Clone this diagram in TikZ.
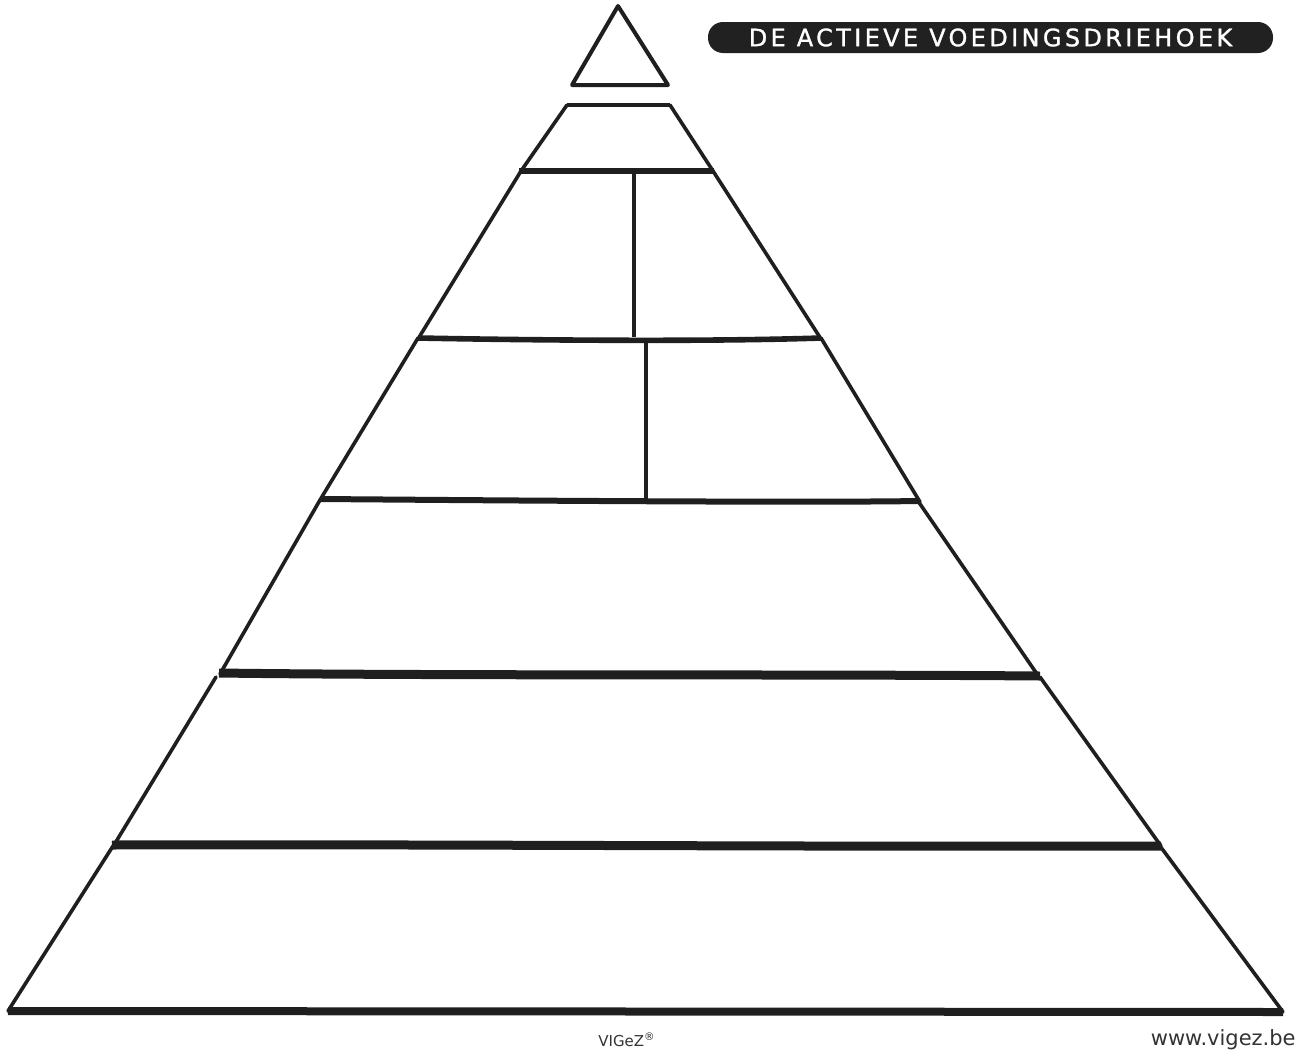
\documentclass[tikz,border=0pt]{standalone}
\usepackage{fontspec}
\setmainfont{DejaVu Sans}
\newfontfamily\bannerfont[LetterSpace=14,FakeBold=1.2]{DejaVu Sans}
\begin{document}
\begin{tikzpicture}[x=0.5pt,y=-0.5pt,
  edge/.style={line width=1.8pt,line join=round,line cap=round,black!88},
  band/.style={line width=#1,line cap=butt,black!88},
  band/.default=2.5pt]
\useasboundingbox (0,0) rectangle (1306,1055);
% apex triangle
\draw[edge,line width=2pt] (618,6) -- (572,85) -- (668,85) -- cycle;
% layer 2
\draw[edge] (567,105) -- (521,171);
\draw[edge] (670,105) -- (713,171);
\draw[band=1.6pt] (567,105) -- (670,105);
\draw[band=2.6pt] (519,171) -- (714,171);
% layer 3
\draw[edge] (521,171) -- (418,339);
\draw[edge] (713,171) -- (821,339);
\draw[band=2.2pt] (634,171) -- (634,337);
\draw[band=2.8pt] (418,338) .. controls (520,340) and (700,342) .. (821,338);
% layer 4
\draw[edge] (418,338) -- (320,500);
\draw[edge] (821,338) -- (920,502);
\draw[band=2.2pt] (646,339) -- (646,499);
\draw[band=3pt] (320,499) .. controls (450,500) and (800,503) .. (918,501);
% layer 5
\draw[edge] (320,500) -- (220,674);
\draw[edge] (918,501) -- (1037,674);
\draw[band=4.5pt] (219,673) .. controls (450,676) and (800,674) .. (1040,676);
% layer 6
\draw[edge] (216,677) -- (114,845);
\draw[edge] (1040,677) -- (1161,846);
\draw[band=4.5pt] (112,845) .. controls (400,844) and (800,847) .. (1161,846);
% layer 7
\draw[edge] (113,846) -- (8,1011);
\draw[edge] (1160,846) -- (1283,1012);
\draw[band=4pt] (8,1011) -- (1283,1012);
% banner
\node[fill=black!87,rounded corners=7.5pt,minimum width=282.5pt,minimum height=15.5pt,inner sep=0pt,
  text=white,font=\bannerfont\fontsize{12}{12}\selectfont] (banner) at (990.5,37.5) {DE ACTIEVE VOEDINGSDRIEHOEK};
% credits
\node[font=\fontsize{7.5}{7.5}\selectfont,text=black!80] (vigez) at (627,1040) {VIGeZ\textsuperscript{®}};
\node[font=\fontsize{10.5}{10.5}\selectfont,text=black!80,anchor=east,inner sep=0pt] (url) at (1296,1040) {www.vigez.be};
\end{tikzpicture}
\end{document}
